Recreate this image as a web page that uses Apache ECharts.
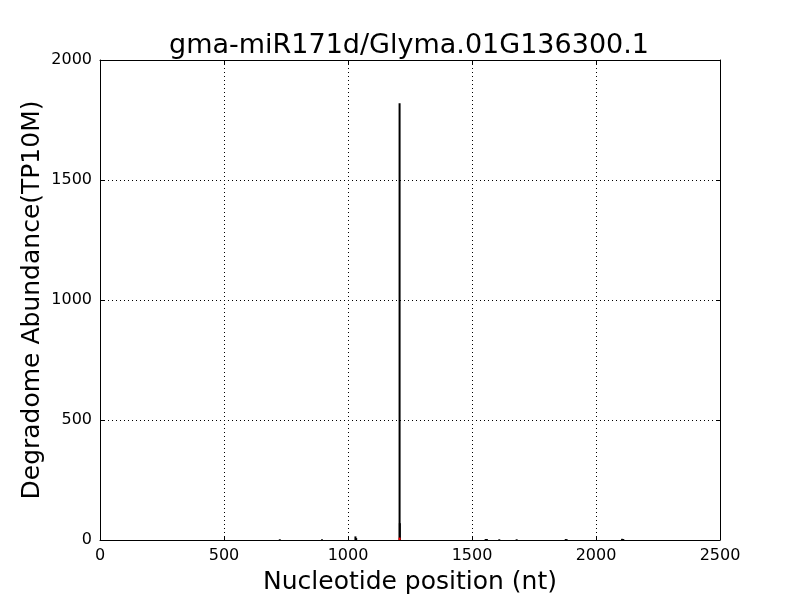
<!DOCTYPE html>
<html><head><meta charset="utf-8">
<script src="https://cdn.jsdelivr.net/npm/echarts@6/dist/echarts.min.js"></script>
<style>html,body{margin:0;padding:0;background:#fff}#c{width:800px;height:600px}</style>
</head><body><div id="c"></div>
<script>
var positions = [725, 895, 1030, 1033, 1208, 1209, 1555, 1560, 1610, 1680, 1878, 1882, 2105, 2110];
var abundance = [3, 3, 15, 8, 1820, 70, 4, 4, 3, 3, 4, 3, 5, 4];
var targetPos = [1208];
var targetVal = [10];
var xTicks = [0, 500, 1000, 1500, 2000, 2500];
var yTicks = [0, 500, 1000, 1500, 2000];

var font = 'DejaVu Sans';
var chart = echarts.init(document.getElementById('c'));
var grid = {left: 100, top: 60, width: 620, height: 480};
var baseX = {type: 'value', min: xTicks[0], max: xTicks[xTicks.length - 1], interval: 500};
var baseY = {type: 'value', min: yTicks[0], max: yTicks[yTicks.length - 1], interval: 500};
var fmt = function (v) { return String(v); };
chart.setOption({
  animation: false,
  title: {text: 'gma-miR171d/Glyma.01G136300.1', left: 164, top: 27,
    textStyle: {fontFamily: font, fontSize: 27, fontWeight: 'normal', color: '#000'}},
  grid: grid,
  xAxis: [
    Object.assign({}, baseX, {position: 'bottom', name: 'Nucleotide position (nt)', nameLocation: 'middle', nameGap: 30,
      nameMoveOverlap: false,
      nameTextStyle: {fontFamily: font, fontSize: 25, color: '#000'},
      axisLine: {show: true, onZero: false, lineStyle: {color: '#000', width: 1}},
      axisTick: {show: true, inside: true, length: 4, lineStyle: {color: '#000'}},
      axisLabel: {fontFamily: font, fontSize: 16, color: '#000', margin: 8, formatter: fmt},
      splitLine: {show: true, lineStyle: {color: '#000', type: [1, 3], width: 1}}}),
    Object.assign({}, baseX, {position: 'top',
      axisLine: {show: true, onZero: false, lineStyle: {color: '#000', width: 1}},
      axisTick: {show: true, inside: true, length: 4, lineStyle: {color: '#000'}},
      axisLabel: {show: false}, splitLine: {show: false}})
  ],
  yAxis: [
    Object.assign({}, baseY, {position: 'left', name: 'Degradome Abundance(TP10M)', nameLocation: 'middle', nameGap: 55,
      nameMoveOverlap: false,
      nameTextStyle: {fontFamily: font, fontSize: 25, color: '#000'},
      axisLine: {show: true, onZero: false, lineStyle: {color: '#000', width: 1}},
      axisTick: {show: true, inside: true, length: 4, lineStyle: {color: '#000'}},
      axisLabel: {fontFamily: font, fontSize: 16, color: '#000', margin: 8, formatter: fmt},
      splitLine: {show: true, lineStyle: {color: '#000', type: [1, 3], width: 1}}}),
    Object.assign({}, baseY, {position: 'right',
      axisLine: {show: true, onZero: false, lineStyle: {color: '#000', width: 1}},
      axisTick: {show: true, inside: true, length: 4, lineStyle: {color: '#000'}},
      axisLabel: {show: false}, splitLine: {show: false}})
  ],
  series: [
    {type: 'bar', xAxisIndex: 0, yAxisIndex: 0, barWidth: 2, barGap: '-100%',
      itemStyle: {color: '#000'},
      data: positions.map(function (p, i) { return [p, abundance[i]]; })},
    {type: 'bar', xAxisIndex: 0, yAxisIndex: 0, barWidth: 2, barGap: '-100%',
      itemStyle: {color: '#ff0000'},
      data: targetPos.map(function (p, i) { return [p, targetVal[i]]; })}
  ]
});
</script></body></html>
